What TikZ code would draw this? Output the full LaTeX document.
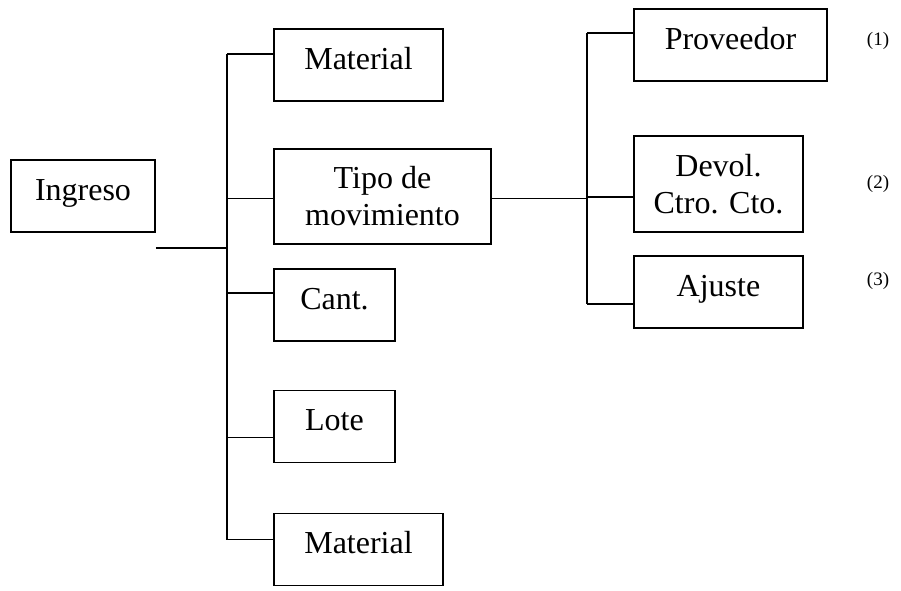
\documentclass[tikz,border=0pt]{standalone}
\usepackage{fontspec}
\setmainfont{Liberation Serif}

\begin{document}
\begin{tikzpicture}[x=1pt,y=-1pt,
  campo/.style={rectangle,draw,line width=1.7pt,inner sep=0pt,align=center,
                font=\fontsize{32}{37}\selectfont},
  una/.style={text height=40pt,text depth=32pt},
  nota/.style={inner sep=0pt,font=\fontsize{19}{22}\selectfont},
  rama/.style={line width=1.3pt}]
\useasboundingbox (0,0) rectangle (901,590);

% cajas
\node[campo,una,minimum width=144pt] (ing) at (83,196) {Ingreso};
\node[campo,una,minimum width=169pt] (mat1) at (358.5,65) {Material};
\node[campo,minimum width=217pt,minimum height=95pt] (tipo) at (382.5,196.5) {Tipo de\\movimiento};
\node[campo,una,minimum width=121pt] (cant) at (334.5,305) {Cant.};
\node[campo,una,minimum width=121pt] (lote) at (334.5,426.5) {Lote};
\node[campo,una,minimum width=169pt] (mat2) at (358.5,549.5) {Material};
\node[campo,una,minimum width=193pt] (prov) at (730.5,45) {Proveedor};
\node[campo,minimum width=169pt,minimum height=96pt] (devol) at (718.5,184) {Devol.\\Ctro. Cto.};
\node[campo,una,minimum width=169pt] (ajus) at (718.5,292) {Ajuste};

\node[nota] (n1) at (878,41) {(1)};
\node[nota] (n2) at (878,184) {(2)};
\node[nota] (n3) at (878,281) {(3)};

% lineas
\coordinate (busL) at (227,247);
\coordinate (busR) at (587,198);
\coordinate (ingout) at ([yshift=-15pt]ing.south east);
\draw[rama] (ingout) -- (ingout -| busL);

\foreach \n/\s in {mat1/11,tipo/-2,cant/12,lote/-11,mat2/10}
  \coordinate (\n-in) at ([yshift=\s pt]\n.west);
\foreach \n in {mat1,tipo,cant,lote,mat2}
  \draw[rama] (\n-in) -- (\n-in -| busL);
\draw[rama] (mat1-in -| busL) -- (mat2-in -| busL);

\coordinate (tipo-out) at ([yshift=-2pt]tipo.east);
\draw[rama] (tipo-out) -- (tipo-out -| busR);
\foreach \n/\s in {prov/12,devol/-13,ajus/-12}
  \coordinate (\n-in) at ([yshift=\s pt]\n.west);
\foreach \n in {prov,devol,ajus}
  \draw[rama] (\n-in) -- (\n-in -| busR);
\draw[rama] (prov-in -| busR) -- (ajus-in -| busR);

\end{tikzpicture}
\end{document}
